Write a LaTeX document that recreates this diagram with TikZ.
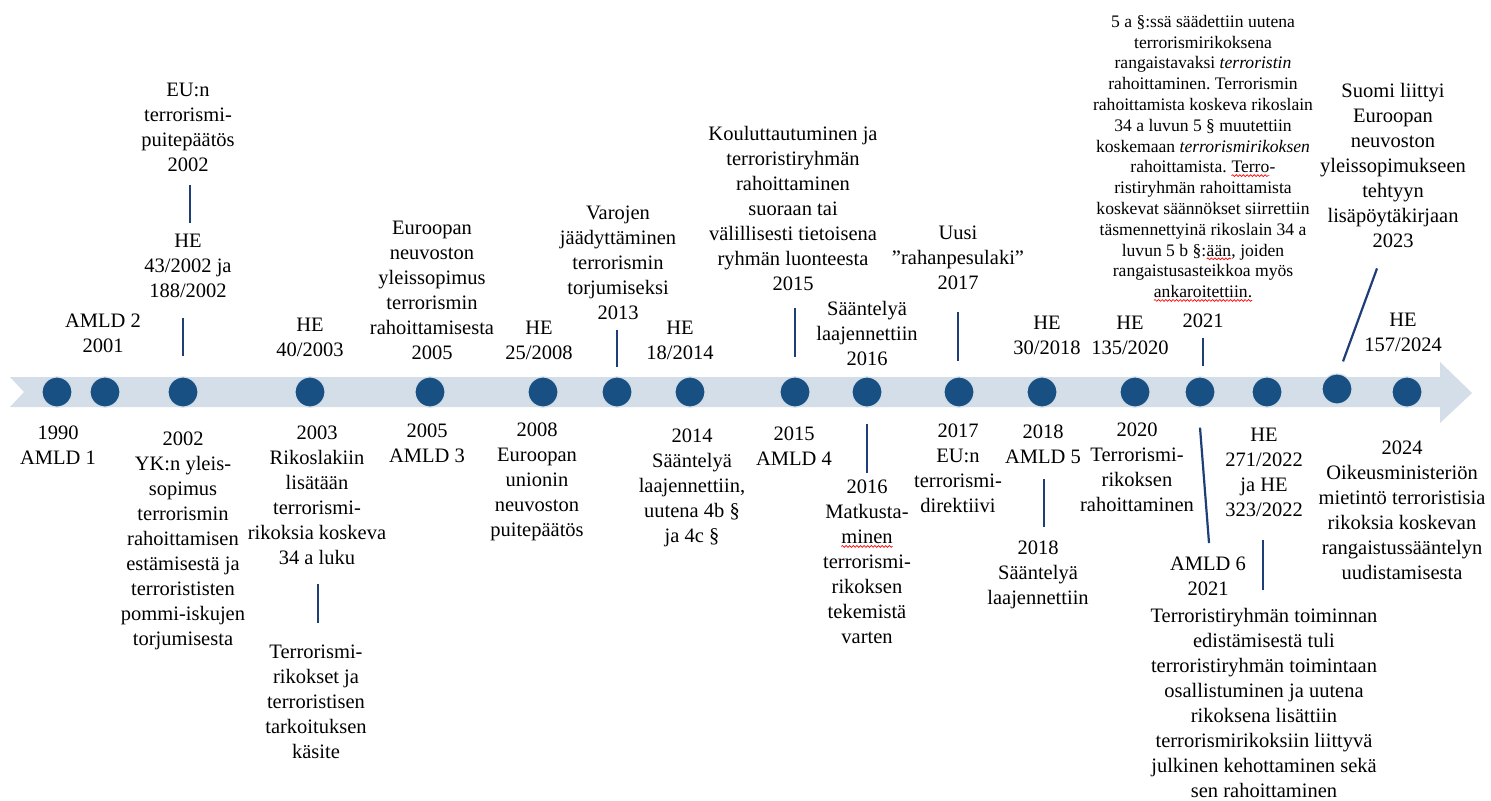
\documentclass[tikz,border=0pt]{standalone}
\usepackage{fontspec}
\setmainfont{Liberation Serif}
\usetikzlibrary{calc,decorations.pathmorphing}
\definecolor{band}{RGB}{212,222,232}
\definecolor{dotblue}{RGB}{24,80,132}
\definecolor{linkblue}{RGB}{30,62,120}
\frenchspacing
\newcommand{\wv}[1]{\tikz[baseline=(W.base)]{\node[anchor=base,inner sep=0pt,outer sep=0pt](W){#1};\draw[red,line width=0.35pt,decorate,decoration={snake,amplitude=0.45pt,segment length=1.8pt}]([yshift=-1.4pt]W.base west)--([yshift=-1.4pt]W.base east);}}
\begin{document}
\begin{tikzpicture}[x=0.5pt,y=-0.5pt,
 txt/.style={font=\fontsize{10.25}{12.5}\selectfont,align=center,inner sep=0pt,outer sep=0pt,anchor=north},
 smalltxt/.style={font=\fontsize{8.8}{10.4}\selectfont,align=center,inner sep=0pt,outer sep=0pt,anchor=north},
 tdot/.style={circle,fill=dotblue,draw=white!80!dotblue,line width=0.6pt,minimum size=15pt,inner sep=0pt},
 conn/.style={draw=linkblue,line width=1.1pt}]
\fill[white] (0,0) rectangle (1491,800);
\useasboundingbox (0,0) rectangle (1491,800);
% timeline arrow
\fill[band] (10,377) -- (1440,377) -- (1440,362) -- (1472,393) -- (1440,423) -- (1440,407) -- (10,407) -- (24,392) -- cycle;
% dots
\node[tdot] (d1) at (57,392) {};
\node[tdot] (d2) at (105,392) {};
\node[tdot] (d3) at (183,392) {};
\node[tdot] (d4) at (310,392) {};
\node[tdot] (d5) at (430,392) {};
\node[tdot] (d6) at (543,392) {};
\node[tdot] (d7) at (617,392) {};
\node[tdot] (d8) at (690,392) {};
\node[tdot] (d9) at (795,392) {};
\node[tdot] (d10) at (867,392) {};
\node[tdot] (d11) at (959,392) {};
\node[tdot] (d12) at (1042,392) {};
\node[tdot] (d13) at (1135,392) {};
\node[tdot] (d14) at (1200,392) {};
\node[tdot] (d15) at (1267,392) {};
\node[tdot] (d16) at (1337,389) {};
\node[tdot] (d17) at (1407,392) {};
% labels above
\node[txt] (tEU) at (188,83) {EU:n\\terrorismi-\\puitepäätös\\2002};
\node[txt] (tHE02) at (188,234) {HE\\43/2002 ja\\188/2002};
\node[txt] (tAMLD2) at (103,314) {AMLD 2\\2001};
\node[txt] (tHE03) at (310,318) {HE\\40/2003};
\node[txt] (tCoE05) at (432,221) {Euroopan\\neuvoston\\yleissopimus\\terrorismin\\rahoittamisesta\\2005};
\node[txt] (tHE08) at (539,321) {HE\\25/2008};
\node[txt] (tVar13) at (618,206) {Varojen\\jäädyttäminen\\terrorismin\\torjumiseksi\\2013};
\node[txt] (tHE14) at (680,321) {HE\\18/2014};
\node[txt] (tKou15) at (793,126) {Kouluttautuminen ja\\terroristiryhmän\\rahoittaminen\\suoraan tai\\välillisesti tietoisena\\ryhmän luonteesta\\2015};
\node[txt] (tSaa16) at (867,301) {Sääntelyä\\laajennettiin\\2016};
\node[txt] (tUusi17) at (958,226) {Uusi\\”rahanpesulaki”\\2017};
\node[txt] (tHE18) at (1047,316) {HE\\30/2018};
\node[txt] (tHE20) at (1130,316) {HE\\135/2020};
\node[smalltxt] (tBig21) at (1203,15) {5 a §:ssä säädettiin uutena\\terrorismirikoksena\\rangaistavaksi \textit{terroristin}\\rahoittaminen. Terrorismin\\rahoittamista koskeva rikoslain\\34 a luvun 5 § muutettiin\\koskemaan \textit{terrorismirikoksen}\\rahoittamista. \wv{Terro}-\\ristiryhmän rahoittamista\\koskevat säännökset siirrettiin\\täsmennettyinä rikoslain 34 a\\luvun 5 b §:\wv{ään}, joiden\\rangaistusasteikkoa myös\\\wv{ankaroitettiin.}};
\node[txt,anchor=base] (tY21) at (1203,327) {2021};
\node[txt] (tSuomi23) at (1393,83) {Suomi liittyi\\Euroopan\\neuvoston\\yleissopimukseen\\tehtyyn\\lisäpöytäkirjaan\\2023};
\node[txt] (tHE24) at (1403,313) {HE\\157/2024};
% labels below
\node[txt] (b1990) at (58,426) {1990\\AMLD 1};
\node[txt] (b2002) at (183,432) {2002\\YK:n yleis-\\sopimus\\terrorismin\\rahoittamisen\\estämisestä ja\\terrorististen\\pommi-iskujen\\torjumisesta};
\node[txt] (b2003) at (317,426) {2003\\Rikoslakiin\\lisätään\\terrorismi-\\rikoksia koskeva\\34 a luku};
\node[txt] (b2005) at (427,424) {2005\\AMLD 3};
\node[txt] (bTerr) at (316,645) {Terrorismi-\\rikokset ja\\terroristisen\\tarkoituksen\\käsite};
\node[txt] (b2008) at (537,423) {2008\\Euroopan\\unionin\\neuvoston\\puitepäätös};
\node[txt] (b2014) at (692,429) {2014\\Sääntelyä\\laajennettiin,\\uutena 4b §\\ja 4c §};
\node[txt] (b2015) at (794,427) {2015\\AMLD 4};
\node[txt] (b2016) at (867,480) {2016\\Matkusta-\\\wv{minen}\\terrorismi-\\rikoksen\\tekemistä\\varten};
\node[txt] (b2017) at (958,424) {2017\\EU:n\\terrorismi-\\direktiivi};
\node[txt] (b2018a) at (1043,425) {2018\\AMLD 5};
\node[txt] (b2018b) at (1038,541) {2018\\Sääntelyä\\laajennettiin};
\node[txt] (b2020) at (1137,423) {2020\\Terrorismi-\\rikoksen\\rahoittaminen};
\node[txt] (bAMLD6) at (1208,557) {AMLD 6\\2021};
\node[txt] (bTerrRy) at (1264,608) {Terroristiryhmän toiminnan\\edistämisestä tuli\\terroristiryhmän toimintaan\\osallistuminen ja uutena\\rikoksena lisättiin\\terrorismirikoksiin liittyvä\\julkinen kehottaminen sekä\\sen rahoittaminen};
\node[txt] (bHE22) at (1264,428) {HE\\271/2022\\ja HE\\323/2022};
\node[txt] (b2024) at (1402,441) {2024\\Oikeusministeriön\\mietintö terroristisia\\rikoksia koskevan\\rangaistussääntelyn\\uudistamisesta};
% connectors
\draw[conn] ($(tEU.south)+(2,13)$) -- ($(tHE02.north)+(2,-11)$);
\draw[conn] ($(tHE02.south)+(-5,20)$) -- ($(d3.north)+(0,-20)$);
\draw[conn] ($(b2003.south)+(1,19)$) -- ($(bTerr.north)+(2,-22)$);
\draw[conn] ($(tVar13.south)+(-1,10)$) -- ($(d7.north)+(0,-9)$);
\draw[conn] ($(tKou15.south)+(2,18)$) -- ($(d9.north)+(0,-19)$);
\draw[conn] ($(d10.south)+(0,16)$) -- ($(b2016.north)+(0,-7)$);
\draw[conn] ($(tUusi17.south)+(0,22)$) -- ($(d11.north)+(-1,-15)$);
\draw[conn] ($(b2018a.south)+(1,15)$) -- ($(b2018b.north)+(6,-14)$);
\draw[conn] ($(tY21.south)+(0,11)$) -- ($(d14.north)+(3,-10)$);
\draw[conn] ($(d14.south)+(0,20)$) -- ($(bAMLD6.north)+(1,-14)$);
\draw[conn] ($(bHE22.south)+(-1,23)$) -- ($(bTerrRy.north)+(-1,-18)$);
\draw[conn] ($(tSuomi23.south)+(-16,21)$) -- ($(d16.north)+(6,-12)$);
\end{tikzpicture}
\end{document}
